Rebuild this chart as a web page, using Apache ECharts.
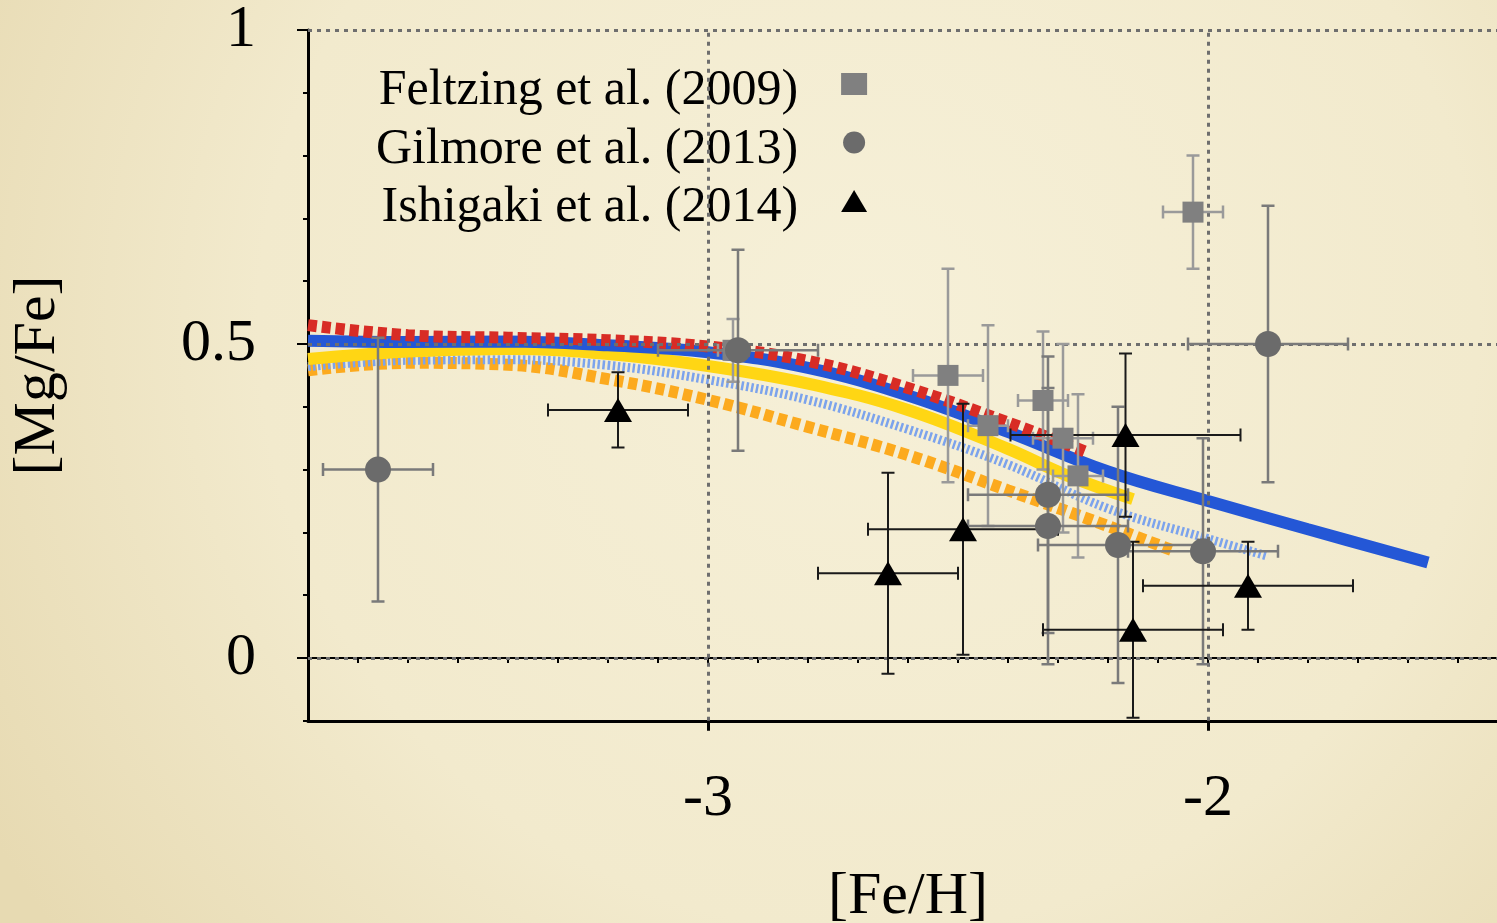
<!DOCTYPE html>
<html>
<head>
<meta charset="utf-8">
<script src="https://cdn.jsdelivr.net/npm/echarts@6/dist/echarts.min.js"></script>
<style>
html,body{margin:0;padding:0;background:#f1e9cc;overflow:hidden;}
#chart{width:1497px;height:923px;}
</style>
</head>
<body>
<div id="chart"></div>
<script>
// ---------- Data ----------
// Observations: [ [Fe/H], [Mg/Fe], err[Fe/H], err[Mg/Fe] ]
const feltzingData = [
  [-2.95, 0.49, 0.03, 0.05],
  [-2.52, 0.45, 0.07, 0.17],
  [-2.44, 0.37, 0.04, 0.16],
  [-2.33, 0.41, 0.05, 0.11],
  [-2.29, 0.35, 0.06, 0.15],
  [-2.26, 0.29, 0.05, 0.13],
  [-2.03, 0.71, 0.06, 0.09]
];
const gilmoreData = [
  [-3.66, 0.30, 0.11, 0.21],
  [-2.94, 0.49, 0.16, 0.16],
  [-2.32, 0.26, 0.16, 0.22],
  [-2.32, 0.21, 0.16, 0.22],
  [-2.18, 0.18, 0.16, 0.22],
  [-2.01, 0.17, 0.15, 0.18],
  [-1.88, 0.50, 0.16, 0.22]
];
const ishigakiData = [
  [-3.18, 0.395, 0.14, 0.06],
  [-2.64, 0.135, 0.14, 0.16],
  [-2.49, 0.205, 0.19, 0.20],
  [-2.165, 0.355, 0.23, 0.13],
  [-2.15, 0.045, 0.18, 0.14],
  [-1.92, 0.115, 0.21, 0.07]
];
// Model curves: [ [Fe/H], [Mg/Fe] ]
const blueCurve = [
  [-3.8, 0.505], [-3.6, 0.503], [-3.4, 0.504], [-3.2, 0.498], [-3.0, 0.487],
  [-2.8, 0.462], [-2.6, 0.418], [-2.4, 0.360], [-2.2, 0.297], [-2.0, 0.250],
  [-1.8, 0.205], [-1.56, 0.152]
];
const redCurve = [
  [-3.8, 0.530], [-3.6, 0.514], [-3.4, 0.510], [-3.2, 0.506], [-3.0, 0.496],
  [-2.8, 0.473], [-2.6, 0.430], [-2.4, 0.375], [-2.24, 0.327]
];
const yellowCurve = [
  [-3.8, 0.476], [-3.6, 0.488], [-3.4, 0.492], [-3.2, 0.484], [-3.0, 0.465],
  [-2.8, 0.437], [-2.6, 0.395], [-2.4, 0.333], [-2.28, 0.290], [-2.15, 0.253]
];
const lightBlueCurve = [
  [-3.8, 0.464], [-3.6, 0.474], [-3.4, 0.475], [-3.2, 0.466], [-3.0, 0.443],
  [-2.8, 0.411], [-2.6, 0.364], [-2.4, 0.308], [-2.2, 0.238], [-2.0, 0.190],
  [-1.88, 0.162]
];
const orangeCurve = [
  [-3.8, 0.458], [-3.6, 0.470], [-3.4, 0.467], [-3.2, 0.444], [-3.0, 0.411],
  [-2.8, 0.368], [-2.6, 0.323], [-2.4, 0.267], [-2.2, 0.210], [-2.07, 0.171]
];
const xMajorTicks = [-3, -2];
const yMajorTicks = [0, 0.5, 1];
const seriesNames = ['Feltzing et al. (2009)', 'Gilmore et al. (2013)', 'Ishigaki et al. (2014)'];

// ---------- Chart ----------
const FONT = 'Liberation Serif';
const chart = echarts.init(document.getElementById('chart'), null, {renderer: 'canvas'});

function errRender(color, width, cap) {
  return function (params, api) {
    const x = api.value(0), y = api.value(1), ex = api.value(2), ey = api.value(3);
    const l = api.coord([x - ex, y]), r = api.coord([x + ex, y]);
    const t = api.coord([x, y + ey]), b = api.coord([x, y - ey]);
    const h = cap / 2;
    const st = {stroke: color, lineWidth: width};
    const seg = (x1, y1, x2, y2) => ({type: 'line', shape: {x1, y1, x2, y2}, style: st});
    return {
      type: 'group',
      children: [
        seg(l[0], l[1], r[0], r[1]),
        seg(l[0], l[1] - h, l[0], l[1] + h),
        seg(r[0], r[1] - h, r[0], r[1] + h),
        seg(t[0], t[1], b[0], b[1]),
        seg(t[0] - h, t[1], t[0] + h, t[1]),
        seg(b[0] - h, b[1], b[0] + h, b[1])
      ]
    };
  };
}

function curve(data, color, width, type, z) {
  return {
    type: 'line', data: data, smooth: 0.4, showSymbol: false, symbol: 'none',
    lineStyle: {color: color, width: width, type: type, cap: 'butt'},
    z: z, silent: true, animation: false, legendHoverLink: false
  };
}

const option = {
  animation: false,
  backgroundColor: {
    type: 'radial', x: 0.58, y: 0.35, r: 1.1,
    colorStops: [
      {offset: 0, color: '#f6f0d8'},
      {offset: 0.6, color: '#f2eacd'},
      {offset: 1, color: '#e7dab2'}
    ]
  },
  grid: {left: 308, top: 30, width: 1200, height: 690.8, containLabel: false, outerBoundsMode: 'none'},
  legend: {
    orient: 'vertical', left: 371, top: 47, align: 'right',
    itemGap: -5.5, itemWidth: 26, itemHeight: 22,
    selectedMode: false,
    formatter: function (name) { return '{t|' + name + '}'; },
    textStyle: {
      fontFamily: FONT, fontSize: 50, color: '#000',
      rich: {t: {fontFamily: FONT, fontSize: 50, lineHeight: 50, color: '#000', padding: [14, 38, 0, 0]}}
    },
    data: seriesNames
  },
  xAxis: [
    {
      type: 'value', min: -3.8, max: -1.4, position: 'bottom',
      axisLine: {show: true, onZero: false, lineStyle: {color: '#000', width: 3}},
      axisTick: {show: true, customValues: xMajorTicks, length: 10, lineStyle: {color: '#000', width: 3}},
      axisLabel: {customValues: xMajorTicks, fontFamily: FONT, fontSize: 60, color: '#000', margin: 48},
      splitLine: {show: false},
      name: '[Fe/H]', nameLocation: 'middle', nameGap: 146,
      nameTextStyle: {fontFamily: FONT, fontSize: 60, color: '#000'}
    },
    {
      type: 'value', min: -3.8, max: -1.4, interval: 0.1, position: 'bottom',
      axisLine: {show: false}, axisLabel: {show: false}, splitLine: {show: false},
      axisTick: {show: true, length: 5, lineStyle: {color: '#000', width: 2}}
    },
    {
      type: 'value', min: -3.8, max: -1.4, position: 'top',
      axisLine: {show: true, lineStyle: {color: '#000', width: 2}},
      axisTick: {show: false}, axisLabel: {show: false}, splitLine: {show: false}
    }
  ],
  yAxis: [
    {
      type: 'value', min: -0.1, max: 1, position: 'left',
      axisLine: {show: true, onZero: false, lineStyle: {color: '#000', width: 3}},
      axisTick: {show: true, customValues: yMajorTicks, length: 11, lineStyle: {color: '#000', width: 2}},
      axisLabel: {customValues: yMajorTicks, fontFamily: FONT, fontSize: 60, color: '#000', margin: 52},
      splitLine: {show: false},
      name: '[Mg/Fe]', nameLocation: 'middle', nameGap: 240,
      nameTextStyle: {fontFamily: FONT, fontSize: 60, color: '#000'}
    },
    {
      type: 'value', min: -0.1, max: 1, interval: 0.1, position: 'left',
      axisLine: {show: false}, axisLabel: {show: false}, splitLine: {show: false},
      axisTick: {show: true, length: 5, lineStyle: {color: '#000', width: 2}}
    }
  ],
  series: [
    {
      type: 'line', data: [], silent: true, z: 1,
      markLine: {
        silent: true, symbol: ['none', 'none'], label: {show: false}, animation: false,
        lineStyle: {color: '#6e6e6e', width: 3, type: [4, 5]},
        data: [{yAxis: 0}, {yAxis: 0.5}, {yAxis: 1}, {xAxis: -3}, {xAxis: -2}]
      }
    },
    curve(orangeCurve, '#fcaa1e', 12, [9, 5], 2),
    curve(lightBlueCurve, '#7ca3ec', 9, [2.5, 2.5], 2),
    curve(yellowCurve, '#ffd614', 12, 'solid', 2),
    curve(blueCurve, '#2457d6', 12, 'solid', 3),
    curve(redCurve, '#d82c25', 12, [9, 5], 4),
    {type: 'custom', renderItem: errRender('#9a9a9a', 2.5, 13), data: feltzingData, z: 5, silent: true, clip: true},
    {type: 'custom', renderItem: errRender('#7a7a7a', 2.5, 13), data: gilmoreData, z: 5, silent: true, clip: true},
    {type: 'custom', renderItem: errRender('#1a1a1a', 2, 13), data: ishigakiData, z: 5, silent: true, clip: true},
    {
      name: seriesNames[0], type: 'scatter', symbol: 'rect', symbolSize: 21,
      data: feltzingData.map(d => [d[0], d[1]]), itemStyle: {color: '#808080', opacity: 1}, z: 6
    },
    {
      name: seriesNames[1], type: 'scatter', symbol: 'circle', symbolSize: 26,
      data: gilmoreData.map(d => [d[0], d[1]]), itemStyle: {color: '#6b6b6b', opacity: 1}, z: 6
    },
    {
      name: seriesNames[2], type: 'scatter', symbol: 'triangle', symbolSize: [28, 24],
      data: ishigakiData.map(d => [d[0], d[1]]), itemStyle: {color: '#000', opacity: 1}, z: 7
    }
  ]
};
chart.setOption(option);
</script>
</body>
</html>
